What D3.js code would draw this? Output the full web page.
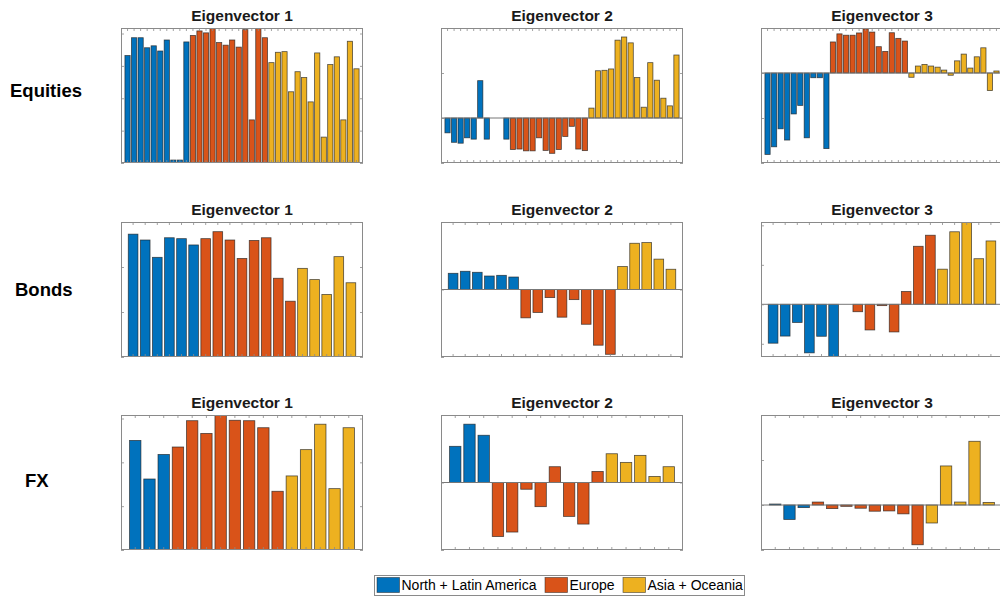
<!DOCTYPE html>
<html>
<head>
<meta charset="utf-8">
<script src="https://cdn.jsdelivr.net/npm/d3@7"></script>
<style>
  html, body { margin: 0; padding: 0; background: #fff; }
  svg { display: block; font-family: "Liberation Sans", Arial, Helvetica, sans-serif; }
</style>
</head>
<body>
<svg id="chart" width="1000" height="599"></svg>
<script>
// Region groups (number of assets per region, in plotting order)
const regionNames = ["North + Latin America", "Europe", "Asia + Oceania"];
const regionColors = ["#0072BD", "#D95319", "#EDB120"];

const assetClasses = ["Equities", "Bonds", "FX"];
const eigenTitles = ["Eigenvector 1", "Eigenvector 2", "Eigenvector 3"];

const equitiesGroups = [10, 12, 14];
const bondsGroups = [6, 8, 5];
const fxGroups = [3, 8, 5];

// Equities loadings
const equitiesEV1 = [
  0.166, 0.1935, 0.1935, 0.178, 0.181, 0.173, 0.190, 0.0046, 0.0046, 0.187,
  0.197, 0.204, 0.201, 0.2085, 0.186, 0.182, 0.190, 0.179, 0.206, 0.0666, 0.2085, 0.1935,
  0.155, 0.171, 0.172, 0.110, 0.141, 0.132, 0.0944, 0.170, 0.040, 0.152, 0.164, 0.0666, 0.188, 0.1455
];
const equitiesEV2 = [
  -0.066, -0.108, -0.112, -0.088, -0.094, 0.166, -0.094, 0, 0, -0.094,
  -0.140, -0.138, -0.146, -0.146, -0.088, -0.144, -0.157, -0.140, -0.082, -0.037, -0.138, -0.145,
  0.044, 0.210, 0.212, 0.218, 0.346, 0.360, 0.334, 0.180, 0.048, 0.246, 0.168, 0.088, 0.054, 0.280
];
const equitiesEV3 = [
  -0.362, -0.328, -0.248, -0.298, -0.182, -0.144, -0.288, -0.021, -0.021, -0.336,
  0.138, 0.174, 0.168, 0.168, 0.178, 0.196, 0.182, 0.117, 0.096, 0.179, 0.154, 0.142,
  -0.019, 0.031, 0.038, 0.031, 0.026, 0.013, -0.010, 0.054, 0.084, 0.022, 0.072, 0.112, -0.078, 0.009
];

// Bonds loadings
const bondsEV1 = [
  0.273, 0.260, 0.2215, 0.265, 0.263, 0.249,
  0.263, 0.2785, 0.260, 0.219, 0.259, 0.265, 0.175, 0.124,
  0.197, 0.172, 0.139, 0.223, 0.165
];
const bondsEV2 = [
  0.120, 0.135, 0.1275, 0.100, 0.105, 0.0925,
  -0.210, -0.170, -0.060, -0.205, -0.075, -0.2575, -0.4125, -0.480,
  0.170, 0.3425, 0.3475, 0.225, 0.150
];
const bondsEV3 = [
  -0.197, -0.161, -0.092, -0.246, -0.162, -0.267,
  0, -0.0376, -0.130, -0.0068, -0.140, 0.065, 0.294, 0.350,
  0.178, 0.3675, 0.417, 0.231, 0.321
];

// FX loadings
const fxEV1 = [
  0.250, 0.162, 0.218,
  0.235, 0.295, 0.266, 0.308, 0.296, 0.295, 0.279, 0.134,
  0.169, 0.229, 0.287, 0.140, 0.279
];
const fxEV2 = [
  0.268, 0.432, 0.350,
  -0.400, -0.367, -0.050, -0.179, 0.117, -0.251, -0.308, 0.082,
  0.213, 0.149, 0.201, 0.045, 0.117
];
const fxEV3 = [
  0.011, -0.161, -0.029,
  0.033, -0.040, -0.015, -0.036, -0.069, -0.066, -0.0985, -0.442,
  -0.200, 0.434, 0.033, 0.708, 0.029
];

// Y-axis limits and tick values per panel
const equitiesYDomains = [[0, 0.2085], [-0.2, 0.4], [-0.4, 0.2]];
const equitiesYTicks = [[0, 0.05, 0.1, 0.15, 0.2], [-0.2, 0, 0.2, 0.4], [-0.4, -0.2, 0, 0.2]];
const bondsYDomains = [[0, 0.3], [-0.5, 0.5], [-0.267, 0.417]];
const bondsYTicks = [[0, 0.1, 0.2, 0.3], [-0.5, 0, 0.5], [-0.2, 0, 0.2, 0.4]];
const fxYDomains = [[0, 0.308], [-0.5, 0.5], [-0.5, 1.0]];
const fxYTicks = [[0, 0.1, 0.2, 0.3], [-0.5, 0, 0.5], [-0.5, 0, 0.5, 1.0]];

const rows = [
  { name: "Equities", groups: equitiesGroups, series: [equitiesEV1, equitiesEV2, equitiesEV3],
    domains: equitiesYDomains, ticks: equitiesYTicks },
  { name: "Bonds", groups: bondsGroups, series: [bondsEV1, bondsEV2, bondsEV3],
    domains: bondsYDomains, ticks: bondsYTicks },
  { name: "FX", groups: fxGroups, series: [fxEV1, fxEV2, fxEV3],
    domains: fxYDomains, ticks: fxYTicks }
];

// Layout
const colLeft = [121, 441, 761];
const panelW = 242;
const rowTop = [28, 222, 415];
const panelH = 135;
const rowLabelX = [10, 15, 25];
const rowLabelY = [97, 296, 487];

const axisColor = "#8a8a8a";
const tickLen = 3;

const svg = d3.select("#chart");

function regionOf(i, groups) {
  let acc = 0;
  for (let g = 0; g < groups.length; g++) {
    acc += groups[g];
    if (i < acc) return g;
  }
  return groups.length - 1;
}

rows.forEach((row, r) => {
  // Row label
  svg.append("text")
    .attr("x", rowLabelX[r])
    .attr("y", rowLabelY[r])
    .attr("font-size", 18.5)
    .attr("font-weight", "bold")
    .attr("fill", "#000")
    .text(row.name);

  row.series.forEach((vals, c) => {
    const x0 = colLeft[c], y0 = rowTop[r];
    const n = vals.length;
    const idx = d3.range(n);

    const x = d3.scaleBand()
      .domain(idx)
      .range([x0, x0 + panelW])
      .paddingInner(0.2)
      .paddingOuter(0.6);

    const y = d3.scaleLinear()
      .domain(row.domains[c])
      .range([y0 + panelH, y0]);

    const g = svg.append("g");

    // Title
    g.append("text")
      .attr("x", x0 + panelW / 2)
      .attr("y", y0 - 7)
      .attr("text-anchor", "middle")
      .attr("font-size", 15.5)
      .attr("font-weight", "bold")
      .attr("fill", "#1a1a1a")
      .text(eigenTitles[c]);

    // Clip to axes box
    const clipId = `clip-${r}-${c}`;
    g.append("clipPath").attr("id", clipId)
      .append("rect")
      .attr("x", x0).attr("y", y0)
      .attr("width", panelW).attr("height", panelH);

    const plot = g.append("g").attr("clip-path", `url(#${clipId})`);

    // Bars
    plot.selectAll("rect.bar")
      .data(vals)
      .join("rect")
      .attr("class", "bar")
      .attr("x", (d, i) => x(i))
      .attr("width", x.bandwidth())
      .attr("y", d => y(Math.max(0, d)))
      .attr("height", d => Math.abs(y(d) - y(0)))
      .attr("fill", (d, i) => regionColors[regionOf(i, row.groups)])
      .attr("stroke", "#1e1e1e")
      .attr("stroke-opacity", 0.75)
      .attr("stroke-width", 0.8);

    // Baseline at zero
    plot.append("line")
      .attr("x1", x0).attr("x2", x0 + panelW)
      .attr("y1", y(0)).attr("y2", y(0))
      .attr("stroke", "#777")
      .attr("stroke-width", 1);

    // X ticks (bottom and top, pointing inward)
    const bottomAxis = d3.axisBottom(x).tickSize(-tickLen).tickFormat("");
    const topAxis = d3.axisTop(x).tickSize(-tickLen).tickFormat("");
    g.append("g").attr("transform", `translate(0,${y0 + panelH})`).call(bottomAxis);
    g.append("g").attr("transform", `translate(0,${y0})`).call(topAxis);

    // Y ticks (left and right, pointing inward)
    const leftAxis = d3.axisLeft(y).tickValues(row.ticks[c]).tickSize(-tickLen).tickFormat("");
    const rightAxis = d3.axisRight(y).tickValues(row.ticks[c]).tickSize(-tickLen).tickFormat("");
    g.append("g").attr("transform", `translate(${x0},0)`).call(leftAxis);
    g.append("g").attr("transform", `translate(${x0 + panelW},0)`).call(rightAxis);

    g.selectAll(".domain").remove();
    g.selectAll(".tick line").attr("stroke", axisColor).attr("stroke-width", 0.8);

    // Axes box
    g.append("rect")
      .attr("x", x0 + 0.5).attr("y", y0 + 0.5)
      .attr("width", panelW - 1).attr("height", panelH - 1)
      .attr("fill", "none")
      .attr("stroke", axisColor)
      .attr("stroke-width", 1);
  });
});

// Legend
const legend = svg.append("g");
legend.append("rect")
  .attr("x", 374.5).attr("y", 575.5)
  .attr("width", 370).attr("height", 20)
  .attr("fill", "#fff")
  .attr("stroke", "#8a8a8a")
  .attr("stroke-width", 1);

const legendPatchX = [377, 545, 623];
const legendTextX = [401.5, 569.5, 647.5];
regionNames.forEach((name, i) => {
  legend.append("rect")
    .attr("x", legendPatchX[i]).attr("y", 577.5)
    .attr("width", 22.5).attr("height", 15)
    .attr("fill", regionColors[i])
    .attr("stroke", "#1e1e1e")
    .attr("stroke-opacity", 0.6)
    .attr("stroke-width", 0.8);
  legend.append("text")
    .attr("x", legendTextX[i])
    .attr("y", 590)
    .attr("font-size", 14)
    .attr("fill", "#000")
    .text(name);
});
</script>
</body>
</html>
